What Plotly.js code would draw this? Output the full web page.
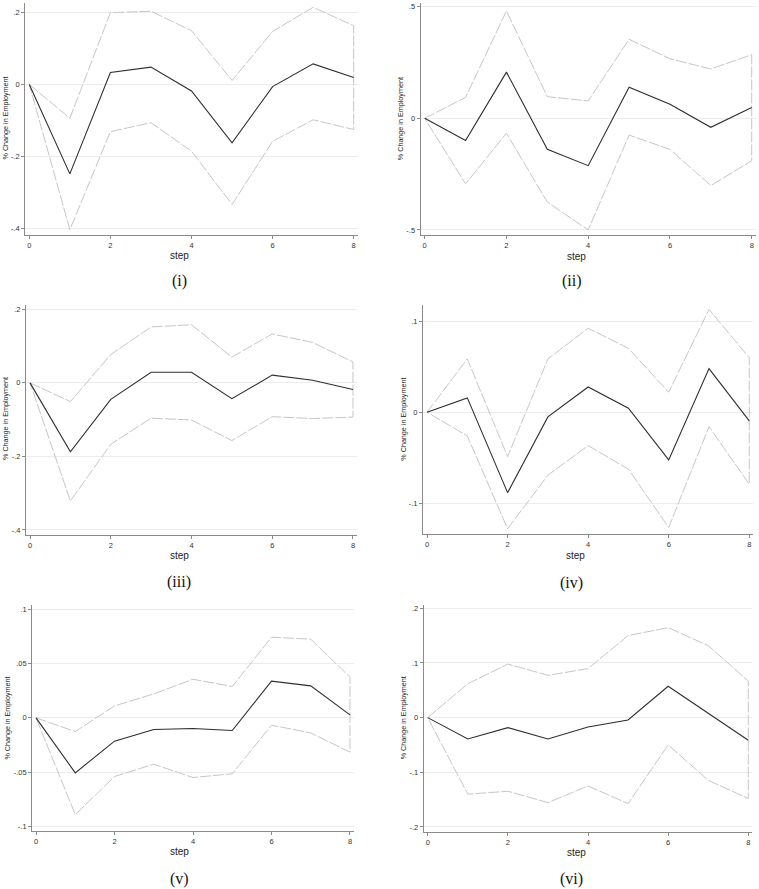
<!DOCTYPE html>
<html>
<head>
<meta charset="utf-8">
<script src="https://cdn.plot.ly/plotly-3.0.1.min.js"></script>
<style>
  html, body { margin: 0; padding: 0; background: #ffffff; }
  #chart { width: 759px; height: 889px; }
</style>
</head>
<body>
<div id="chart"></div>
<script>
// ---------------- data ----------------
const steps = [0, 1, 2, 3, 4, 5, 6, 7, 8];
const xTickVals = [0, 2, 4, 6, 8];
const xTickText = ["0", "2", "4", "6", "8"];

const irf_i   = [0, -0.248, 0.033, 0.048, -0.018, -0.162, -0.006, 0.057, 0.019];
const upper_i = [0, -0.094, 0.199, 0.203, 0.149, 0.011, 0.147, 0.214, 0.163];
const lower_i = [0, -0.403, -0.131, -0.106, -0.185, -0.333, -0.158, -0.098, -0.125];

const irf_ii   = [0, -0.099, 0.207, -0.139, -0.212, 0.139, 0.063, -0.040, 0.049];
const upper_ii = [0, 0.094, 0.481, 0.097, 0.078, 0.354, 0.267, 0.221, 0.285];
const lower_ii = [0, -0.293, -0.067, -0.375, -0.500, -0.075, -0.139, -0.301, -0.190];

const irf_iii   = [0, -0.1875, -0.045, 0.029, 0.029, -0.043, 0.021, 0.007, -0.018];
const upper_iii = [0, -0.051, 0.077, 0.152, 0.158, 0.070, 0.133, 0.110, 0.057];
const lower_iii = [0, -0.321, -0.167, -0.096, -0.101, -0.157, -0.092, -0.097, -0.093];

const irf_iv   = [0, 0.0158, -0.0883, -0.0051, 0.0278, 0.0044, -0.0524, 0.048, -0.0095];
const upper_iv = [0, 0.0586, -0.0487, 0.0586, 0.0923, 0.0703, 0.022, 0.113, 0.060];
const lower_iv = [0, -0.026, -0.128, -0.0692, -0.0366, -0.0626, -0.1267, -0.0158, -0.079];

const irf_v   = [0, -0.0505, -0.0214, -0.0107, -0.0098, -0.0116, 0.0337, 0.0294, 0.0028];
const upper_v = [0, -0.0126, 0.011, 0.022, 0.0355, 0.0288, 0.0741, 0.0723, 0.0374];
const lower_v = [0, -0.0888, -0.0539, -0.0426, -0.0548, -0.0514, -0.0067, -0.0138, -0.0315];

const irf_vi   = [0, -0.039, -0.0183, -0.039, -0.0171, -0.0043, 0.0573, 0.0086, -0.0415];
const upper_vi = [0, 0.062, 0.098, 0.0774, 0.0896, 0.150, 0.1646, 0.1317, 0.067];
const lower_vi = [0, -0.140, -0.1347, -0.1555, -0.125, -0.1573, -0.050, -0.1146, -0.148];

const yTicks_i   = [-0.4, -0.2, 0, 0.2];          const yText_i   = ["-.4", "-.2", "0", ".2"];
const yTicks_ii  = [-0.5, 0, 0.5];                const yText_ii  = ["-.5", "0", ".5"];
const yTicks_iii = [-0.4, -0.2, 0, 0.2];          const yText_iii = ["-.4", "-.2", "0", ".2"];
const yTicks_iv  = [-0.1, 0, 0.1];                const yText_iv  = ["-.1", "0", ".1"];
const yTicks_v   = [-0.1, -0.05, 0, 0.05, 0.1];   const yText_v   = ["-.1", "-.05", "0", ".05", ".1"];
const yTicks_vi  = [-0.2, -0.1, 0, 0.1, 0.2];     const yText_vi  = ["-.2", "-.1", "0", ".1", ".2"];

const captions = ["(i)", "(ii)", "(iii)", "(iv)", "(v)", "(vi)"];
const xTitle = "step";
const yTitle = "% Change in Employment";

// ---------------- layout geometry (pixels) ----------------
const W = 759, H = 889;
const panels = [
  { irf: irf_i,   up: upper_i,   lo: lower_i,   yt: yTicks_i,   ytx: yText_i,
    px: [25.25, 357.75], py: [3.3, 234.7],   yr: [-0.4167, 0.225],
    step: [179, 255.7], cap: [179, 281.5], ytl: [5, 118.5] },
  { irf: irf_ii,  up: upper_ii,  lo: lower_ii,  yt: yTicks_ii,  ytx: yText_ii,
    px: [420.6, 755.8],  py: [3.35, 234.9],  yr: [-0.522, 0.515],
    step: [576, 256.2], cap: [571.7, 281.5], ytl: [400.7, 118.5] },
  { irf: irf_iii, up: upper_iii, lo: lower_iii, yt: yTicks_iii, ytx: yText_iii,
    px: [26, 357],       py: [304.9, 535.1], yr: [-0.414, 0.212],
    step: [179, 555.7], cap: [179.3, 581.7], ytl: [5, 419] },
  { irf: irf_iv,  up: upper_iv,  lo: lower_iv,  yt: yTicks_iv,  ytx: yText_iv,
    px: [423, 753.3],    py: [304.9, 534.2], yr: [-0.134, 0.118],
    step: [575, 555.7], cap: [571.7, 582.5], ytl: [402.7, 419] },
  { irf: irf_v,   up: upper_v,   lo: lower_v,   yt: yTicks_v,   ytx: yText_v,
    px: [32.1, 353.9],   py: [605, 831.4],   yr: [-0.1043, 0.1037],
    step: [179, 851.7], cap: [179.3, 879], ytl: [7.3, 718.3] },
  { irf: irf_vi,  up: upper_vi,  lo: lower_vi,  yt: yTicks_vi,  ytx: yText_vi,
    px: [423.7, 752.3],  py: [605, 831.6],   yr: [-0.2085, 0.206],
    step: [576, 852.5], cap: [571.7, 878.5], ytl: [403.3, 718] }
];

const traces = [];
const layout = {
  width: W, height: H,
  margin: { l: 0, r: 0, t: 0, b: 0, pad: 0 },
  paper_bgcolor: "#ffffff",
  plot_bgcolor: "#ffffff",
  showlegend: false,
  font: { family: "Liberation Sans, Arial, sans-serif", color: "#222" },
  annotations: []
};

const axisCommon = {
  showline: true, linecolor: "#8a8a8a", linewidth: 1,
  ticks: "outside", ticklen: 3, tickwidth: 1, tickcolor: "#8a8a8a",
  tickfont: { size: 7.5, color: "#333", family: "Liberation Sans, Arial, sans-serif" },
  zeroline: false, fixedrange: true
};

panels.forEach((p, i) => {
  const n = i + 1;
  const xa = "x" + (n === 1 ? "" : n);
  const ya = "y" + (n === 1 ? "" : n);
  const ciX = steps.concat(steps.slice().reverse());
  const ciY = p.up.concat(p.lo.slice().reverse());
  traces.push({
    x: ciX, y: ciY, xaxis: xa, yaxis: ya, type: "scatter", mode: "lines",
    line: { color: "#c6c6c6", width: 1, dash: "11px,2px" }, hoverinfo: "skip"
  });
  traces.push({
    x: steps, y: p.irf, xaxis: xa, yaxis: ya, type: "scatter", mode: "lines",
    line: { color: "#2e2e2e", width: 1.1 }, hoverinfo: "skip"
  });
  layout["xaxis" + (n === 1 ? "" : n)] = Object.assign({}, axisCommon, {
    domain: [p.px[0] / W, p.px[1] / W],
    anchor: ya, range: [-0.1, 8.1],
    tickvals: xTickVals, ticktext: xTickText, showgrid: false
  });
  layout["yaxis" + (n === 1 ? "" : n)] = Object.assign({}, axisCommon, {
    domain: [1 - p.py[1] / H, 1 - p.py[0] / H],
    anchor: xa, range: p.yr,
    tickvals: p.yt, ticktext: p.ytx,
    showgrid: true, gridcolor: "#ececec", gridwidth: 1
  });
  layout.annotations.push({
    xref: "paper", yref: "paper", x: p.step[0] / W, y: 1 - p.step[1] / H,
    xanchor: "center", yanchor: "middle", showarrow: false,
    text: xTitle, font: { size: 10, color: "#222", family: "Liberation Sans, Arial, sans-serif" }
  });
  layout.annotations.push({
    xref: "paper", yref: "paper", x: p.ytl[0] / W, y: 1 - p.ytl[1] / H,
    xanchor: "center", yanchor: "middle", showarrow: false, textangle: -90,
    text: yTitle, font: { size: 7.2, color: "#222", family: "Liberation Sans, Arial, sans-serif" }
  });
  layout.annotations.push({
    xref: "paper", yref: "paper", x: p.cap[0] / W, y: 1 - p.cap[1] / H,
    xanchor: "center", yanchor: "middle", showarrow: false,
    text: captions[i], font: { size: 16, color: "#111", family: "Liberation Serif, Times New Roman, serif" }
  });
});

Plotly.newPlot("chart", traces, layout, { staticPlot: true, displayModeBar: false });
</script>
</body>
</html>
